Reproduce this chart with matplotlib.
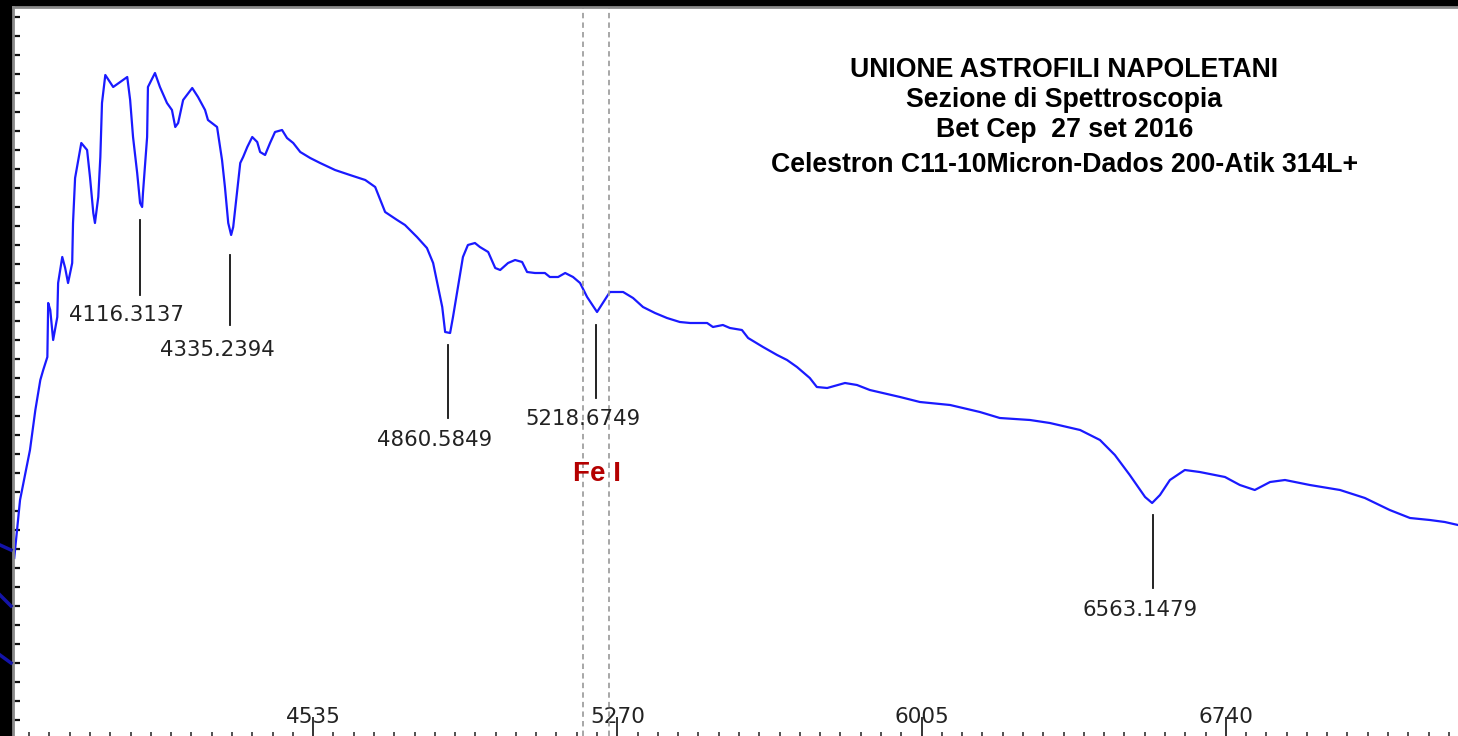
import numpy as np
import matplotlib
matplotlib.use("Agg")
import matplotlib.pyplot as plt
from matplotlib.lines import Line2D
from matplotlib.ticker import FixedLocator, NullFormatter

# spectrum: wavelength (A) and relative flux
wave = [3813, 3827, 3851, 3864, 3876, 3883, 3893, 3895, 3900, 3907, 3917, 3919, 3929, 3936,
        3943, 3953, 3955, 3960, 3975, 3989, 3996, 4004, 4008, 4016, 4021, 4025, 4033, 4052,
        4069, 4086, 4093, 4100, 4110, 4117, 4122, 4124, 4134, 4136, 4153, 4165, 4182, 4194,
        4202, 4209, 4221, 4243, 4257, 4274, 4281, 4303, 4315, 4322, 4330, 4337, 4342, 4351,
        4359, 4366, 4376, 4388, 4400, 4407, 4419, 4431, 4443, 4460, 4472, 4487, 4504, 4528,
        4552, 4588, 4624, 4661, 4685, 4709, 4738, 4757, 4786, 4810, 4825, 4837, 4847, 4854,
        4866, 4873, 4885, 4897, 4909, 4926, 4938, 4958, 4975, 4987, 5006, 5023, 5040, 5052,
        5071, 5095, 5107, 5127, 5144, 5163, 5180, 5197, 5221, 5235, 5252, 5284, 5308, 5332,
        5361, 5390, 5421, 5446, 5487, 5501, 5525, 5542, 5571, 5586, 5622, 5656, 5680, 5704,
        5735, 5752, 5777, 5803, 5820, 5849, 5880, 5953, 6001, 6074, 6146, 6194, 6267, 6315,
        6388, 6436, 6472, 6508, 6545, 6562, 6581, 6605, 6641, 6677, 6738, 6774, 6810, 6847,
        6883, 6943, 7016, 7076, 7136, 7185, 7233, 7269, 7301]
flux = [1.78, 2.36, 2.86, 3.26, 3.56, 3.66, 3.79, 4.33, 4.26, 3.96, 4.19, 4.53, 4.79, 4.68,
        4.53, 4.73, 5.13, 5.58, 5.93, 5.86, 5.59, 5.23, 5.13, 5.39, 5.79, 6.33, 6.61, 6.49,
        6.54, 6.59, 6.36, 5.99, 5.63, 5.33, 5.29, 5.43, 5.99, 6.49, 6.63, 6.49, 6.33, 6.26,
        6.09, 6.13, 6.36, 6.48, 6.39, 6.26, 6.16, 6.09, 5.76, 5.49, 5.13, 5.01, 5.09, 5.43,
        5.73, 5.79, 5.89, 5.99, 5.94, 5.84, 5.81, 5.93, 6.04, 6.06, 5.98, 5.93, 5.84, 5.78,
        5.73, 5.66, 5.61, 5.56, 5.49, 5.24, 5.16, 5.11, 4.99, 4.88, 4.73, 4.49, 4.29, 4.04,
        4.03, 4.19, 4.49, 4.79, 4.91, 4.93, 4.89, 4.84, 4.68, 4.66, 4.73, 4.76, 4.74, 4.64,
        4.63, 4.63, 4.59, 4.59, 4.63, 4.59, 4.53, 4.39, 4.24, 4.33, 4.44, 4.44, 4.38, 4.29,
        4.23, 4.18, 4.14, 4.13, 4.13, 4.09, 4.11, 4.08, 4.06, 3.98, 3.89, 3.81, 3.76, 3.69,
        3.58, 3.49, 3.48, 3.51, 3.53, 3.51, 3.46, 3.39, 3.34, 3.31, 3.24, 3.18, 3.16, 3.13,
        3.06, 2.96, 2.81, 2.61, 2.39, 2.33, 2.41, 2.56, 2.66, 2.64, 2.59, 2.51, 2.46, 2.54,
        2.56, 2.51, 2.46, 2.38, 2.26, 2.18, 2.16, 2.14, 2.11]

# identified lines: position, marker top/bottom, label height
line_wave = [4116.3137, 4335.2394, 4860.5849, 5218.6749, 6563.1479]
line_top = [5.16, 4.81, 3.91, 4.11, 2.21]
line_bot = [4.41, 4.11, 3.18, 3.38, 1.48]
label_y = [4.21, 3.86, 2.96, 3.17, 1.26]

feI_window = [5187, 5250]
major_ticks = [4535, 5270, 6005, 6740]

title_lines = ["UNIONE ASTROFILI NAPOLETANI", "Sezione di Spettroscopia",
               "Bet Cep  27 set 2016", "Celestron C11-10Micron-Dados 200-Atik 314L+"]
title_y = [6.66, 6.36, 6.06, 5.71]

fig = plt.figure(figsize=(14.58, 7.36), dpi=100, facecolor="black")
ax = fig.add_axes([13 / 1458, 0, 1445 / 1458, 729 / 736])
ax.set_facecolor("white")

# dark blue streaks in the black margin
for y0, y1 in [(191, 186), (141, 130), (81, 73)]:
    fig.add_artist(Line2D([0, 11 / 1458], [y0 / 736, y1 / 736], color="#1414a8", lw=2.5))

ax.plot(wave, flux, color="#1a1aff", lw=1.6)

for x in feI_window:
    ax.axvline(x, color="#a0a0a0", lw=1.3, ls=(0, (3, 2.3)))

for w, t, b, ly in zip(line_wave, line_top, line_bot, label_y):
    ax.plot([w, w], [b, t], color="#111111", lw=1.3)
    ax.text(w - 31, ly, f"{w:.4f}", ha="center", va="center", fontsize=15.3, color="#222222")

ax.text(5221, 2.62, "Fe I", ha="center", va="center", fontsize=20, fontweight="bold",
        color="#b40000", family="Liberation Sans")

for s, ty in zip(title_lines, title_y):
    ax.text(6350, ty, s, ha="center", va="center", fontsize=19.2, fontweight="bold",
            color="black", family="Liberation Sans")

ax.set_xlim(3810, 7301)
ax.set_ylim(0, 7.29)

ax.xaxis.set_major_locator(FixedLocator(major_ticks))
ax.xaxis.set_minor_locator(FixedLocator(np.arange(4535 - 49 * 15, 7301, 49)))
ax.xaxis.set_minor_formatter(NullFormatter())
ax.tick_params(axis="x", which="major", direction="in", length=14, width=1.2,
               color="#111111", labelsize=15.5, labelcolor="#222222", pad=-21)
ax.tick_params(axis="x", which="minor", direction="in", length=3, width=1.2, color="#333333")

ax.set_yticks(np.arange(0.16, 7.25, 0.19))
ax.tick_params(axis="y", direction="in", length=5, width=1.6, color="#111111",
               labelleft=False)

for side in ["right", "bottom"]:
    ax.spines[side].set_visible(False)
for side in ["left", "top"]:
    ax.spines[side].set_color("#8a8a8a")
    ax.spines[side].set_linewidth(2)

fig.savefig("out.png", dpi=100, facecolor="black")
